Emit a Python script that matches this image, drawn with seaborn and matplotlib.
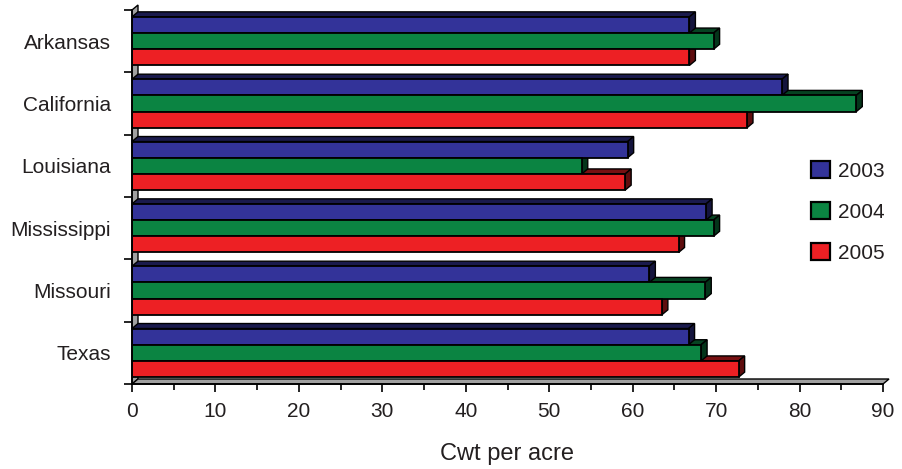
import numpy as np
import pandas as pd
import matplotlib
matplotlib.use("Agg")
import matplotlib.pyplot as plt
import seaborn as sns
from matplotlib.patches import Polygon, Patch, Rectangle
from matplotlib.ticker import MultipleLocator, FixedLocator
import matplotlib.colors as mcolors

states = ["Arkansas", "California", "Louisiana", "Mississippi", "Missouri", "Texas"]
years = ["2003", "2004", "2005"]
y2003 = [66.8, 77.9, 59.4, 68.8, 62.0, 66.7]
y2004 = [69.7, 86.8, 53.9, 69.7, 68.7, 68.2]
y2005 = [66.8, 73.7, 59.1, 65.5, 63.5, 72.7]
colors = ["#333399", "#0b8442", "#ed2024"]
xticks = [0, 10, 20, 30, 40, 50, 60, 70, 80, 90]

df = pd.DataFrame({
    "State": states * 3,
    "Year": [years[0]] * 6 + [years[1]] * 6 + [years[2]] * 6,
    "Yield": y2003 + y2004 + y2005,
})

sns.set_theme(style="white")
plt.rcParams["font.family"] = ["Liberation Sans", "DejaVu Sans"]
TXT = "#231f20"

fig = plt.figure(figsize=(9.02, 4.69), dpi=100)
W, H = 902, 469
ax = fig.add_axes([132 / W, 1 - 384 / H, (883 - 132) / W, (384 - 10) / H])

sns.barplot(data=df, y="State", x="Yield", hue="Year", order=states,
            hue_order=years, palette=colors, saturation=1, orient="h", width=0.78,
            edgecolor="black", linewidth=1.3, legend=False, ax=ax, zorder=3)

ax.set_xlim(0, 90)
ax.set_ylim(5.5, -0.5)

# depth offsets in data units
ax_w_px = (883 - 132)
ax_h_px = (384 - 10)
dx = 6 / (ax_w_px / 90.0)
dy = -5 / (ax_h_px / 6.0)

def shade(c, f):
    r, g, b = mcolors.to_rgb(c)
    return (r * f, g * f, b * f)

bars = [p for p in ax.patches if isinstance(p, Rectangle) and p.get_width() > 0]
for p in bars:
    x, y, w, h = p.get_x(), p.get_y(), p.get_width(), p.get_height()
    ytop, ybot = min(y, y + h), max(y, y + h)
    fc = p.get_facecolor()
    top = Polygon([(x, ytop), (x + w, ytop), (x + w + dx, ytop + dy), (x + dx, ytop + dy)],
                  closed=True, facecolor=shade(fc, 0.5), edgecolor="black", lw=1.0,
                  zorder=2, clip_on=False)
    side = Polygon([(x + w, ytop), (x + w, ybot), (x + w + dx, ybot + dy), (x + w + dx, ytop + dy)],
                   closed=True, facecolor=shade(fc, 0.4), edgecolor="black", lw=1.0,
                   zorder=2.5, clip_on=False)
    ax.add_patch(top)
    ax.add_patch(side)

# left wall and floor
wall = Polygon([(0, 5.5), (0, -0.5), (dx, -0.5 + dy), (dx, 5.5 + dy)], closed=True,
               facecolor="#a0a0a0", edgecolor="black", lw=1.0, zorder=1, clip_on=False)
floor = Polygon([(0, 5.5), (90, 5.5), (90 + dx, 5.5 + dy), (dx, 5.5 + dy)], closed=True,
                facecolor="#a0a0a0", edgecolor="black", lw=1.0, zorder=1, clip_on=False)
ax.add_patch(wall)
ax.add_patch(floor)

for s in ["top", "right"]:
    ax.spines[s].set_visible(False)
for s in ["left", "bottom"]:
    ax.spines[s].set_color("black")
    ax.spines[s].set_linewidth(1.3)
    ax.spines[s].set_zorder(4)

# ticks
ax.set_xticks(xticks)
ax.xaxis.set_minor_locator(MultipleLocator(5))
ax.tick_params(axis="x", which="major", direction="out", length=6, width=1.2,
               color="black", bottom=True, labelsize=15, labelcolor=TXT, pad=7)
ax.tick_params(axis="x", which="minor", direction="out", length=4, width=1.2,
               color="black", bottom=True)

ax.set_yticks(range(len(states)))
ax.set_yticklabels(states)
ax.yaxis.set_minor_locator(FixedLocator([i - 0.5 for i in range(len(states) + 1)]))
ax.tick_params(axis="y", which="major", length=0, labelsize=15, labelcolor=TXT, pad=15)
ax.tick_params(axis="y", which="minor", direction="out", length=6, width=1.2,
               color="black", left=True)

ax.set_ylabel("")
ax.set_xlabel("Cwt per acre", fontsize=17, color=TXT, labelpad=16)
ax.grid(False)

handles = [Patch(facecolor=c, edgecolor="black", linewidth=1.6, label=y)
           for c, y in zip(colors, years)]
leg = fig.legend(handles=handles, loc="upper left", bbox_to_anchor=(811 / W, 1 - 161 / H),
                 frameon=False, fontsize=15, handlelength=0.9, handleheight=0.9,
                 handletextpad=0.4, labelspacing=1.02, borderpad=0, borderaxespad=0)
for t in leg.get_texts():
    t.set_color(TXT)

fig.savefig("out.png", dpi=100, facecolor="white")
